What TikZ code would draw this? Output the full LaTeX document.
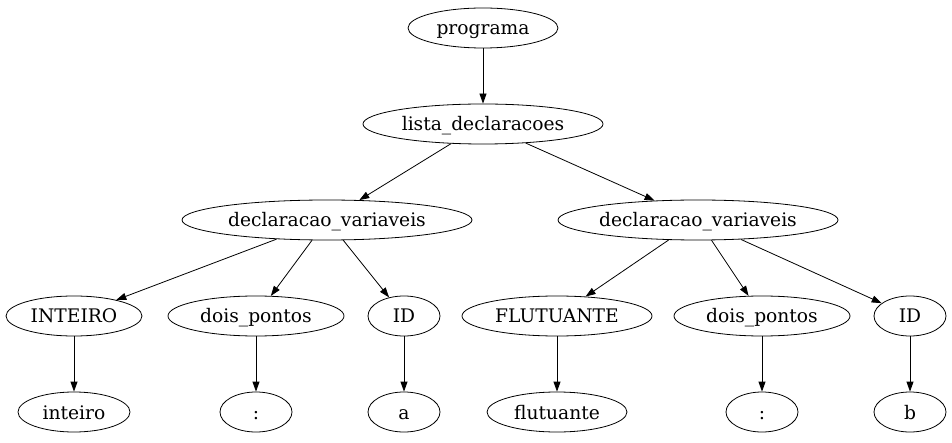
\documentclass[tikz,border=0pt]{standalone}
\usepackage{fontspec}
\setmainfont{DejaVu Serif}
\usetikzlibrary{shapes.geometric,arrows.meta}
\begin{document}
\begin{tikzpicture}[x=1pt,y=-1pt,
  el/.style={draw,ellipse,inner sep=0pt,minimum height=40pt,text height=14pt,text depth=0pt,line width=0.8pt,font=\fontsize{18.67pt}{22pt}\selectfont},
  edge/.style={draw,line width=0.8pt,-{Triangle[length=10pt,width=7pt]}}]
\useasboundingbox (0,0) rectangle (952,443);
\node[el,minimum width=150pt] (p) at (483,28) {programa};
\node[el,minimum width=240pt] (l) at (483,124) {lista\_declaracoes};
\node[el,minimum width=290pt] (d1) at (327,220) {declaracao\_variaveis};
\node[el,minimum width=280pt] (d2) at (698,220) {declaracao\_variaveis};
\node[el,minimum width=136pt] (i1) at (74,316) {INTEIRO};
\node[el,minimum width=176pt] (dp1) at (256,316) {dois\_pontos};
\node[el,minimum width=72pt] (id1) at (404,316) {ID};
\node[el,minimum width=190pt] (f1) at (557,316) {FLUTUANTE};
\node[el,minimum width=176pt] (dp2) at (762,316) {dois\_pontos};
\node[el,minimum width=72pt] (id2) at (910,316) {ID};
\node[el,minimum width=112pt] (i2) at (74,412) {inteiro};
\node[el,minimum width=72pt] (c1) at (256,412) {:};
\node[el,minimum width=72pt] (a) at (404,412) {a};
\node[el,minimum width=140pt] (f2) at (557,412) {flutuante};
\node[el,minimum width=72pt] (c2) at (762,412) {:};
\node[el,minimum width=72pt] (b) at (910,412) {b};
\path[edge] (p) -- (l);
\path[edge] (l) -- (d1);
\path[edge] (l) -- (d2);
\path[edge] (d1) -- (i1);
\path[edge] (d1) -- (dp1);
\path[edge] (d1) -- (id1);
\path[edge] (d2) -- (f1);
\path[edge] (d2) -- (dp2);
\path[edge] (d2) -- (id2);
\path[edge] (i1) -- (i2);
\path[edge] (dp1) -- (c1);
\path[edge] (id1) -- (a);
\path[edge] (f1) -- (f2);
\path[edge] (dp2) -- (c2);
\path[edge] (id2) -- (b);
\end{tikzpicture}
\end{document}
